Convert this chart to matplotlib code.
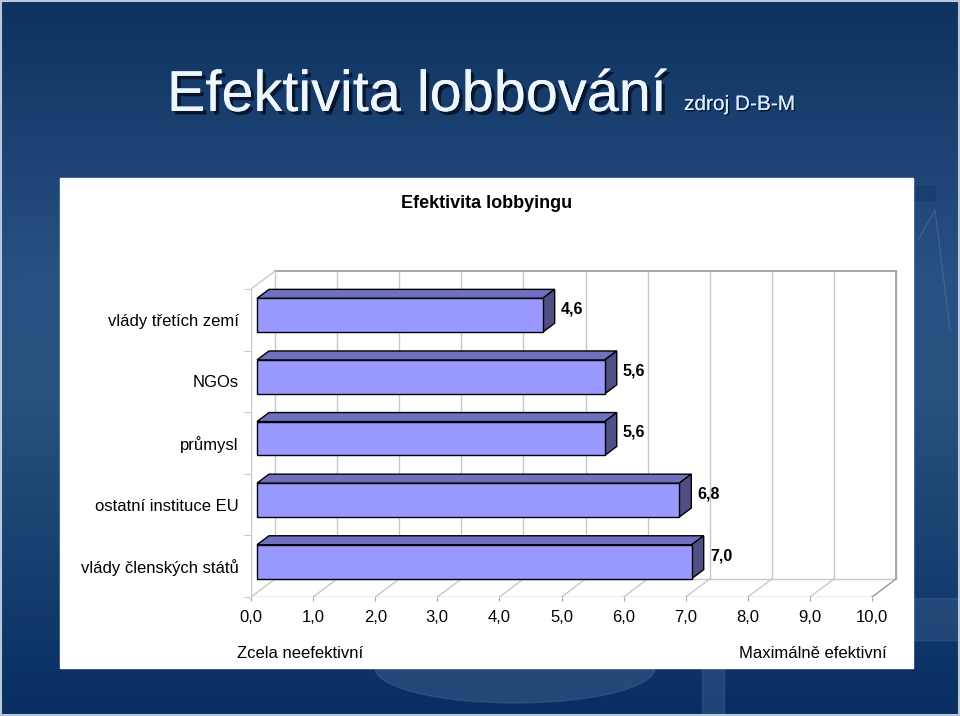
import numpy as np
import matplotlib
matplotlib.use("Agg")
import matplotlib.pyplot as plt
import matplotlib.patheffects as pe
from matplotlib.patches import Rectangle, Ellipse

plt.rcParams["font.family"] = ["Liberation Sans", "DejaVu Sans"]

# data
categories = ["vlády třetích zemí", "NGOs", "průmysl", "ostatní instituce EU", "vlády členských států"]
values = [4.6, 5.6, 5.6, 6.8, 7.0]
x_ticks = [0, 1, 2, 3, 4, 5, 6, 7, 8, 9, 10]
x_tick_labels = ["0,0", "1,0", "2,0", "3,0", "4,0", "5,0", "6,0", "7,0", "8,0", "9,0", "10,0"]

W, H = 960, 716
PX_X = 62.1          # pixels per value unit
PX_Y = 61.6          # pixels per category band
DX = 24 / PX_X       # 3D depth offset in data units
DY = 18 / PX_Y

FRONT = "#9999FF"
TOP = "#7070C0"
SIDE = "#4F4F85"
GRID = "#C8C8C8"
FRAME = "#A0A0A0"

fig = plt.figure(figsize=(W / 100, H / 100), dpi=100)

# slide background
bg = fig.add_axes([0, 0, 1, 1])
bg.set_xlim(0, W)
bg.set_ylim(H, 0)
bg.axis("off")
stops = np.array([0.0, 0.12, 0.38, 0.55, 0.8, 1.0])
cols = np.array([
    [14, 50, 98],
    [22, 60, 108],
    [40, 80, 128],
    [42, 82, 128],
    [22, 62, 110],
    [8, 46, 98],
]) / 255
t = np.linspace(0, 1, 256)
grad = np.stack([np.interp(t, stops, cols[:, c]) for c in range(3)], axis=-1)
bg.imshow(grad[:, None, :], extent=[0, W, H, 0], aspect="auto", zorder=0)

# faint decorations of the slide template
bg.add_patch(Ellipse((515, 668), 280, 70, color="#426792", alpha=0.45, zorder=1))
bg.add_patch(Rectangle((702, 640), 22, 80, color="#4A6E9A", alpha=0.35, zorder=1))
bg.add_patch(Rectangle((913, 598), 50, 42, color="#4A6E9A", alpha=0.3, zorder=1))
bg.add_patch(Rectangle((913, 186), 22, 14, color="#1A3D6E", alpha=0.9, zorder=1))
bg.plot([918, 935, 950], [240, 210, 330], color="#5A7DA8", lw=0.8, alpha=0.5, zorder=1)
bg.add_patch(Rectangle((1, 1), W - 2, H - 2, fill=False, ec="#B8C8D8", lw=1.5, zorder=5))

# white chart panel
bg.add_patch(Rectangle((60, 178), 853, 490, color="white", zorder=2))

# slide title with drop shadow
shadow = [pe.withSimplePatchShadow(offset=(2.5, -2.5), shadow_rgbFace="#08162E", alpha=1.0),
          pe.Normal()]
bg.text(167, 111, "Efektivita lobbování", fontsize=41.5, color="#EEF7FF",
        ha="left", va="baseline", zorder=4, path_effects=shadow)
bg.text(684, 110, "zdroj D-B-M", fontsize=15, color="#D8ECFF",
        ha="left", va="baseline", zorder=4,
        path_effects=[pe.withSimplePatchShadow(offset=(1, -1), shadow_rgbFace="#08162E", alpha=1.0),
                      pe.Normal()])

# chart texts
bg.text(487, 203, "Efektivita lobbyingu", fontsize=13, fontweight="bold",
        ha="center", va="center", zorder=4)
bg.text(237, 653, "Zcela neefektivní", fontsize=12, ha="left", va="center", zorder=4)
bg.text(887, 653, "Maximálně efektivní", fontsize=12, ha="right", va="center", zorder=4)

# chart axes (front plane: 0 -> x=251px, bottom band edge -> y=597px)
left_px, right_px, bottom_px, top_px = 251, 905, 597, 262
ax = fig.add_axes([left_px / W, (H - bottom_px) / H,
                   (right_px - left_px) / W, (bottom_px - top_px) / H])
ax.set_xlim(0, (right_px - left_px) / PX_X)
ax.set_ylim(-0.5, -0.5 + (bottom_px - top_px) / PX_Y)
ax.patch.set_alpha(0)
for s in ax.spines.values():
    s.set_visible(False)

n = len(categories)
ypos = np.arange(n)[::-1]
y_lo, y_hi = -0.5, n - 0.5
xmax = x_ticks[-1]

# walls and floor
for k in x_ticks:
    ax.plot([k + DX, k + DX], [y_lo + DY, y_hi + DY], color=GRID, lw=1, zorder=1)
    ax.plot([k, k + DX], [y_lo, y_lo + DY], color=GRID, lw=1, zorder=1)
ax.plot([DX, xmax + DX], [y_hi + DY, y_hi + DY], color=FRAME, lw=1.3, zorder=1)
ax.plot([xmax + DX, xmax + DX], [y_lo + DY, y_hi + DY], color=FRAME, lw=1.3, zorder=1)
ax.plot([DX, xmax + DX], [y_lo + DY, y_lo + DY], color=GRID, lw=1, zorder=1)
ax.plot([0, xmax], [y_lo, y_lo], color=FRAME, lw=1, zorder=1)
ax.plot([0, 0], [y_lo, y_hi], color=GRID, lw=1, zorder=1)
ax.plot([0, DX], [y_hi, y_hi + DY], color=GRID, lw=1, zorder=1)
ax.plot([xmax, xmax + DX], [y_lo, y_lo + DY], color=FRAME, lw=1, zorder=1)

# 3D bars
bar_h = 0.55
x0 = 0.25 * DX
for y, v in zip(ypos, values):
    yc = y + 0.25 * DY
    yb, yt = yc - bar_h / 2, yc + bar_h / 2
    ax.barh(yc, v, height=bar_h, left=x0, color=FRONT, edgecolor="black", lw=1, zorder=4)
    ax.fill([x0, x0 + v, x0 + v + 0.5 * DX, x0 + 0.5 * DX],
            [yt, yt, yt + 0.5 * DY, yt + 0.5 * DY],
            facecolor=TOP, edgecolor="black", lw=1, zorder=3)
    ax.fill([x0 + v, x0 + v, x0 + v + 0.5 * DX, x0 + v + 0.5 * DX],
            [yb, yt, yt + 0.5 * DY, yb + 0.5 * DY],
            facecolor=SIDE, edgecolor="black", lw=1, zorder=3)
    ax.text(x0 + v + 0.5 * DX + 0.1, yc + 0.1, f"{v:.1f}".replace(".", ","),
            fontsize=11.5, fontweight="bold", ha="left", va="center", zorder=5)

# axis ticks and labels
ax.set_xticks(x_ticks)
ax.set_xticklabels(x_tick_labels, fontsize=12)
ax.tick_params(axis="x", length=3, width=0.8, color=FRAME, pad=6)
ax.set_yticks(ypos)
ax.set_yticklabels(categories, fontsize=12)
ax.tick_params(axis="y", which="major", length=0, pad=9)
ax.set_yticks(np.arange(y_lo, y_hi + 0.01, 1.0), minor=True)
ax.tick_params(axis="y", which="minor", length=5, width=0.8, color=GRID)

fig.savefig("out.png", dpi=100)
